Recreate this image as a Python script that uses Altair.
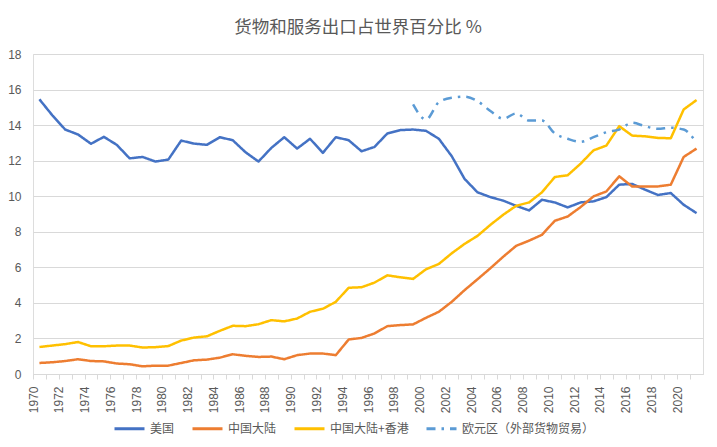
import altair as alt
import pandas as pd

years = list(range(1970, 2022))
us = [15.45, 14.55, 13.75, 13.47, 12.95, 13.34, 12.89, 12.13, 12.21, 11.95,
      12.06, 13.13, 12.96, 12.89, 13.32, 13.15, 12.47, 11.95, 12.72, 13.32,
      12.68, 13.23, 12.44, 13.32, 13.15, 12.53, 12.77, 13.53, 13.72, 13.75,
      13.68, 13.23, 12.25, 10.97, 10.22, 9.95, 9.75, 9.46, 9.20, 9.80,
      9.65, 9.37, 9.65, 9.71, 9.95, 10.65, 10.69, 10.37, 10.07, 10.18,
      9.52, 9.05]
cn = [0.62, 0.66, 0.73, 0.83, 0.73, 0.71, 0.59, 0.55, 0.43, 0.47,
      0.47, 0.62, 0.77, 0.81, 0.92, 1.11, 1.02, 0.96, 0.98, 0.83,
      1.06, 1.15, 1.15, 1.06, 1.94, 2.03, 2.28, 2.69, 2.75, 2.79,
      3.16, 3.50, 4.06, 4.72, 5.33, 5.95, 6.60, 7.21, 7.50, 7.83,
      8.62, 8.86, 9.39, 9.99, 10.27, 11.12, 10.55, 10.55, 10.55, 10.65,
      12.21, 12.68]
cnhk = [1.52, 1.60, 1.68, 1.80, 1.56, 1.56, 1.60, 1.60, 1.49, 1.51,
        1.57, 1.88, 2.05, 2.12, 2.43, 2.71, 2.69, 2.80, 3.03, 2.96,
        3.12, 3.50, 3.67, 4.06, 4.85, 4.88, 5.14, 5.55, 5.44, 5.35,
        5.89, 6.19, 6.79, 7.32, 7.77, 8.39, 8.96, 9.46, 9.65, 10.22,
        11.08, 11.18, 11.83, 12.58, 12.85, 13.94, 13.41, 13.37, 13.28, 13.26,
        14.88, 15.41]
euro_years = list(range(1999, 2022))
euro = [15.16, 14.32, 15.29, 15.54, 15.60, 15.35, 14.79, 14.36, 14.66, 14.26,
        14.26, 13.53, 13.23, 13.06, 13.32, 13.60, 13.75, 14.13, 13.94, 13.79,
        13.85, 13.75, 13.00]

series = ["美国", "中国大陆", "中国大陆+香港", "欧元区（外部货物贸易）"]
colors = ["#4472C4", "#ED7D31", "#FFC000", "#5B9BD5"]
dashes = [[1, 0], [1, 0], [1, 0], [9, 6, 2.5, 6]]
y_ticks = [0, 2, 4, 6, 8, 10, 12, 14, 16, 18]

rows = []
for name, vals in [(series[0], us), (series[1], cn), (series[2], cnhk)]:
    for yr, v in zip(years, vals):
        rows.append({"year": yr, "value": v, "series": name})
solid_df = pd.DataFrame(rows)
euro_df = pd.DataFrame({"year": euro_years, "value": euro,
                        "series": [series[3]] * len(euro)})

CJK = "Noto Sans CJK SC"
SANS = "Liberation Sans"
GRAY = "#595959"

legend = alt.Legend(
    title=None, orient="none", legendX=80, legendY=358, direction="horizontal",
    symbolType="stroke", symbolSize=900, symbolStrokeWidth=3,
    labelFont=CJK, labelFontSize=12, labelColor=GRAY,
    columnPadding=11, labelOffset=4,
)

x_enc = alt.X(
    "year:Q",
    scale=alt.Scale(domain=[1969.5, 2021.5], nice=False, zero=False),
    axis=alt.Axis(
        values=years, title=None, grid=False,
        labelExpr="datum.value % 2 == 0 ? '' + datum.value : ''",
        labelAngle=-90, labelOverlap=False, labelFlush=False,
        labelFont=SANS, labelFontSize=12, labelColor=GRAY, labelPadding=7,
        tickOffset=-6.44, tickSize=5, tickColor="#d9d9d9",
        domainColor="#d9d9d9",
    ),
)
y_enc = alt.Y(
    "value:Q",
    scale=alt.Scale(domain=[0, 18], nice=False),
    axis=alt.Axis(
        values=y_ticks, title=None, domain=False, ticks=False,
        gridColor="#d9d9d9", labelPadding=12, labelFont=SANS,
        labelFontSize=12, labelColor=GRAY,
    ),
)
color_enc = alt.Color("series:N", scale=alt.Scale(domain=series, range=colors),
                      legend=legend)
dash_enc = alt.StrokeDash("series:N", scale=alt.Scale(domain=series, range=dashes),
                          legend=legend)

solid = alt.Chart(solid_df).mark_line(strokeWidth=2.5, strokeJoin="round").encode(
    x=x_enc, y=y_enc, color=color_enc, strokeDash=dash_enc
)
euro_line = alt.Chart(euro_df).mark_line(strokeWidth=2.5, interpolate="monotone").encode(
    x=x_enc, y=y_enc, color=color_enc, strokeDash=dash_enc
)

chart = alt.layer(solid, euro_line).properties(
    width=670, height=320,
    autosize=alt.AutoSizeParams(type="none"),
    padding={"left": 25, "top": 46, "right": 6, "bottom": 65},
    title=alt.TitleParams(
        "货物和服务出口占世界百分比 %", font=CJK, fontSize=17.5, color=GRAY,
        fontWeight="normal", offset=12, dx=-10,
    ),
).configure_view(strokeWidth=0).configure(background="white")

chart.save("out.html", embed_options={"renderer": "svg", "actions": False})
